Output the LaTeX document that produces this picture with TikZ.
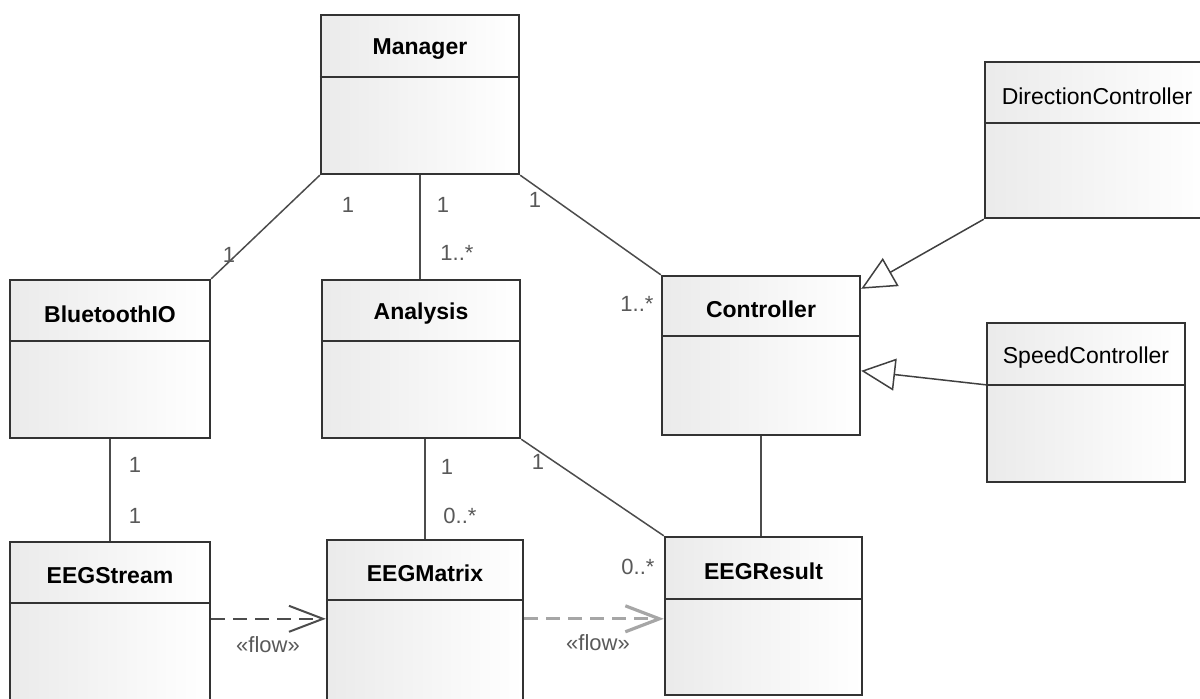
\documentclass[tikz,border=0pt]{standalone}
\usepackage{fontspec}
\setmainfont{Liberation Sans}
\usetikzlibrary{arrows.meta}

\tikzset{
  klass/.style={draw=black!80, line width=1.2pt, left color=black!8, right color=white, inner sep=0pt},
  kline/.style={draw=black!80, line width=1.2pt},
  kname/.style={font=\fontsize{11.5}{13}\selectfont\bfseries},
  mult/.style={text=black!65, font=\fontsize{11}{13}\selectfont},
  assoc/.style={draw=black!70, line width=0.75pt},
  gen/.style={draw=black!75, line width=0.75pt, -{Triangle[open, length=17pt, width=16pt]}},
  flow/.style={dash pattern=on 7pt off 4pt, line width=1pt, -{Straight Barb[length=17pt, width=13pt]}},
}

\begin{document}
\begin{tikzpicture}[x=0.5pt, y=-0.5pt]
  \useasboundingbox (0,0) rectangle (1200,698);
  % classes: name/label/centre x/centre y/width/height/header
  \foreach \n/\t/\cx/\cy/\w/\h/\hd in {
      manager/Manager/420/94.5/99/79.5/31.5,
      direction/{\mdseries DirectionController}/1097/140/112/78/31,
      bluetooth/BluetoothIO/110/359/100/79/31,
      analysis/Analysis/421/359/99/79/31,
      controller/Controller/761/355.5/99/79.5/30.5,
      speed/{\mdseries SpeedController}/1086/402.5/99/79.5/31.5,
      stream/EEGStream/110/626/100/84/31,
      matrix/EEGMatrix/425/625/98/85/30.5,
      result/EEGResult/763.5/616/98.5/79/31.5} {
    \pgfmathsetmacro\th{\hd/2+2}
    \node[klass, minimum width=\w pt, minimum height=\h pt] (\n) at (\cx,\cy) {};
    \draw[kline] ([yshift=-\hd pt]\n.north west) -- ([yshift=-\hd pt]\n.north east);
    \node[kname] (\n-name) at ([yshift=-\th pt]\n.north) {\t};
  }

  % associations
  \draw[assoc] (manager.south west) -- (bluetooth.north east);
  \draw[assoc] (manager.south) -- (manager.south |- analysis.north);
  \draw[assoc] (manager.south east) -- (controller.north west);
  \draw[assoc] (bluetooth.south) -- (stream.north);
  \draw[assoc] (analysis.south -| matrix.north) -- (matrix.north);
  \draw[assoc] (analysis.south east) -- (result.north west);
  \draw[assoc] (controller.south) -- (controller.south |- result.north);

  % generalisations
  \draw[gen] (direction.south west) -- ([yshift=-7pt]controller.north east);
  \draw[gen] ([yshift=-31.5pt]speed.north west) -- ([yshift=-48pt]controller.north east);

  % flows
  \draw[flow, draw=black!70] ([yshift=-39pt]stream.north east) -- ([yshift=-40pt]matrix.north west);
  \draw[flow, draw=black!35, line width=1.6pt] ([yshift=-40pt]matrix.north east) -- ([yshift=-41.5pt]result.north west);
  \node[mult] (flow-a) at (268,645) {«flow»};
  \node[mult] (flow-b) at (598,643) {«flow»};

  % multiplicities
  \node[mult] (mgr-bt) at (348,205) {1};
  \node[mult] (bt-mgr) at (229,255) {1};
  \node[mult] (mgr-an) at (443,205) {1};
  \node[mult] (an-mgr) at (457,253) {1..*};
  \node[mult] (mgr-ct) at (535,200) {1};
  \node[mult] (ct-mgr) at (637,304) {1..*};
  \node[mult] (bt-st) at (135,465) {1};
  \node[mult] (st-bt) at (135,516) {1};
  \node[mult] (an-mx) at (447,467) {1};
  \node[mult] (mx-an) at (460,516) {0..*};
  \node[mult] (an-rs) at (538,462) {1};
  \node[mult] (rs-an) at (638,567) {0..*};
\end{tikzpicture}
\end{document}
